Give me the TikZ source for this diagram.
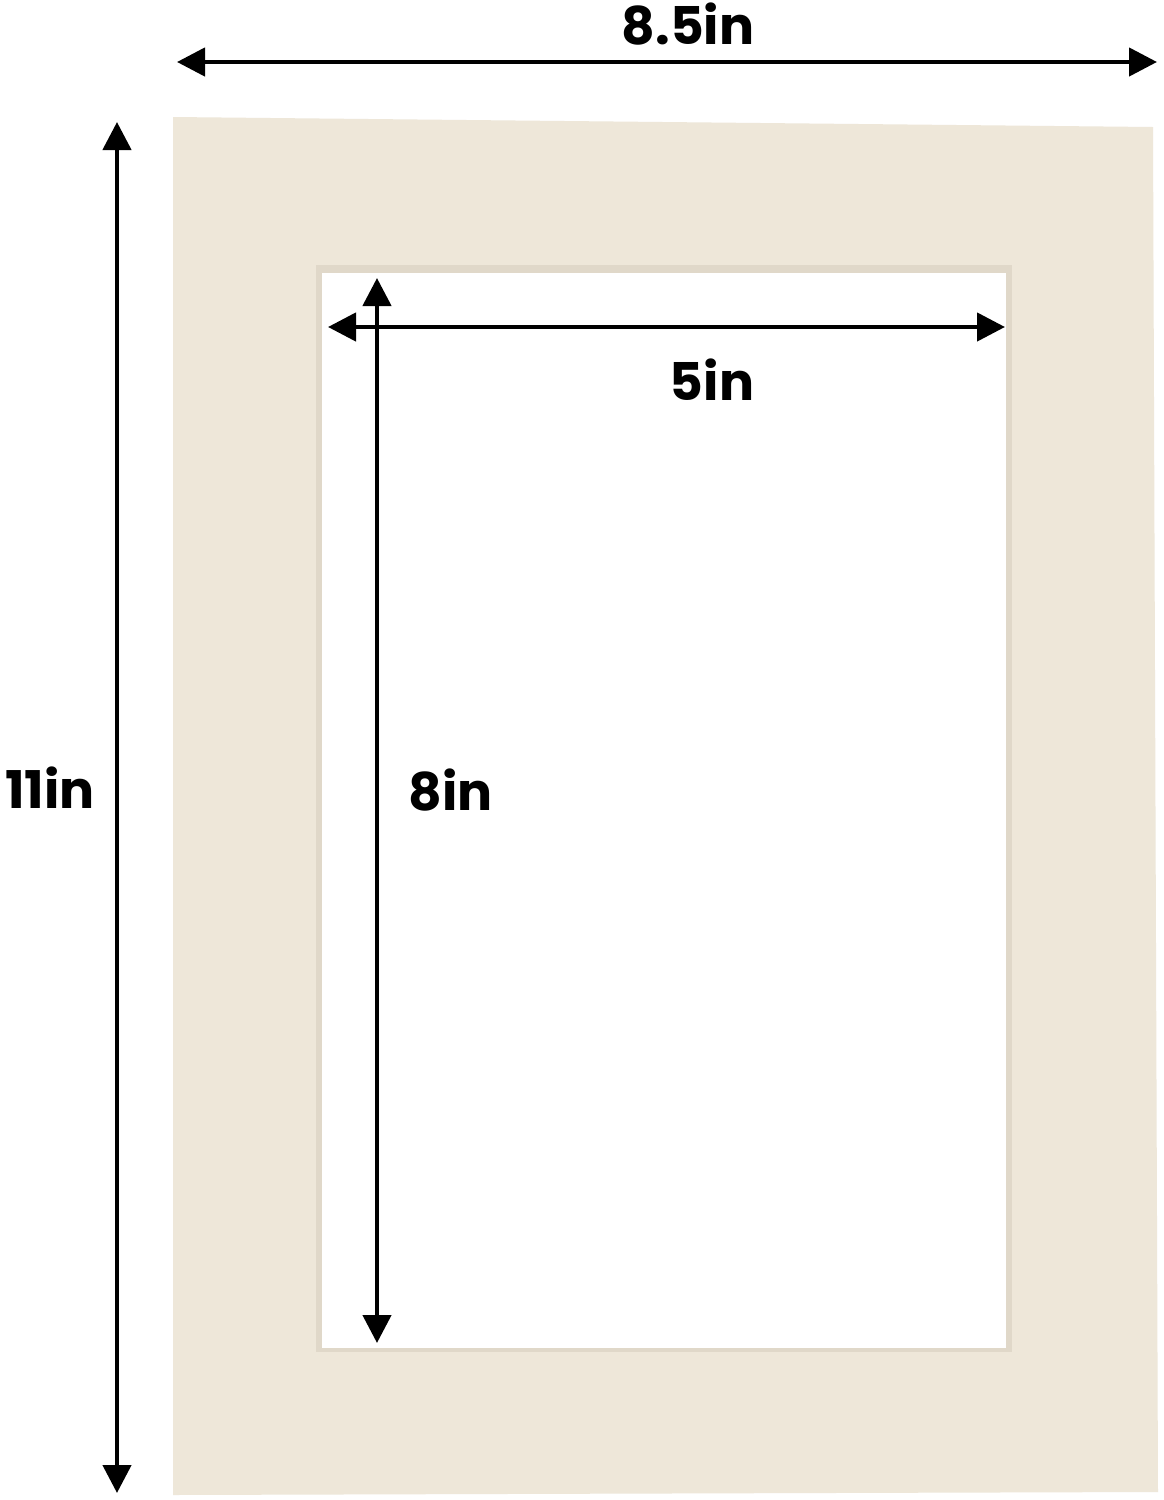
\documentclass[tikz,border=0pt]{standalone}
\usepackage{fontspec}
\setmainfont{Poppins}
\usepackage{tikz}
\usetikzlibrary{arrows.meta}
\usepackage{xcolor}
\definecolor{matcol}{RGB}{238,231,217}
\definecolor{bevelcol}{RGB}{224,216,201}

\tikzset{
  dim/.style={line width=4.5pt,{Triangle[length=28pt,width=28pt]}-{Triangle[length=28pt,width=28pt]}},
  lbl/.style={anchor=base,inner sep=0pt,font=\fontsize{52}{52}\selectfont\bfseries}
}

\begin{document}
\begin{tikzpicture}[x=1pt,y=-1pt]
 \useasboundingbox[fill=white] (0,0) rectangle (1163,1500);
  % mat board and window
  \path[fill=matcol] (173,117) -- (1153,127) -- (1158,1492) -- (173,1495) -- cycle;
  \path[fill=bevelcol] (316,265) rectangle (1012,1352);
  \path[fill=white] (322,273) rectangle (1006,1348);

  % outer sizes
  \coordinate (wl) at (177,62);
  \coordinate (wr) at (1157,62);
  \coordinate (ht) at (117,122);
  \coordinate (hb) at (117,1493);
  \draw[dim] (wl) -- (wr);
  \draw[dim] (ht) -- (hb);
  \node[lbl] (w85) at (688,44) {8.5in};
  \node[lbl] (h11) at (50,808) {11in};

  % window sizes
  \coordinate (il) at (328,327);
  \coordinate (ir) at (1005,327);
  \coordinate (it) at (377,278);
  \coordinate (ib) at (377,1343);
  \draw[dim] (il) -- (ir);
  \draw[dim] (it) -- (ib);
  \node[lbl] (w5) at (712,400) {5in};
  \node[lbl] (h8) at (451,810) {8in};
\end{tikzpicture}
\end{document}
